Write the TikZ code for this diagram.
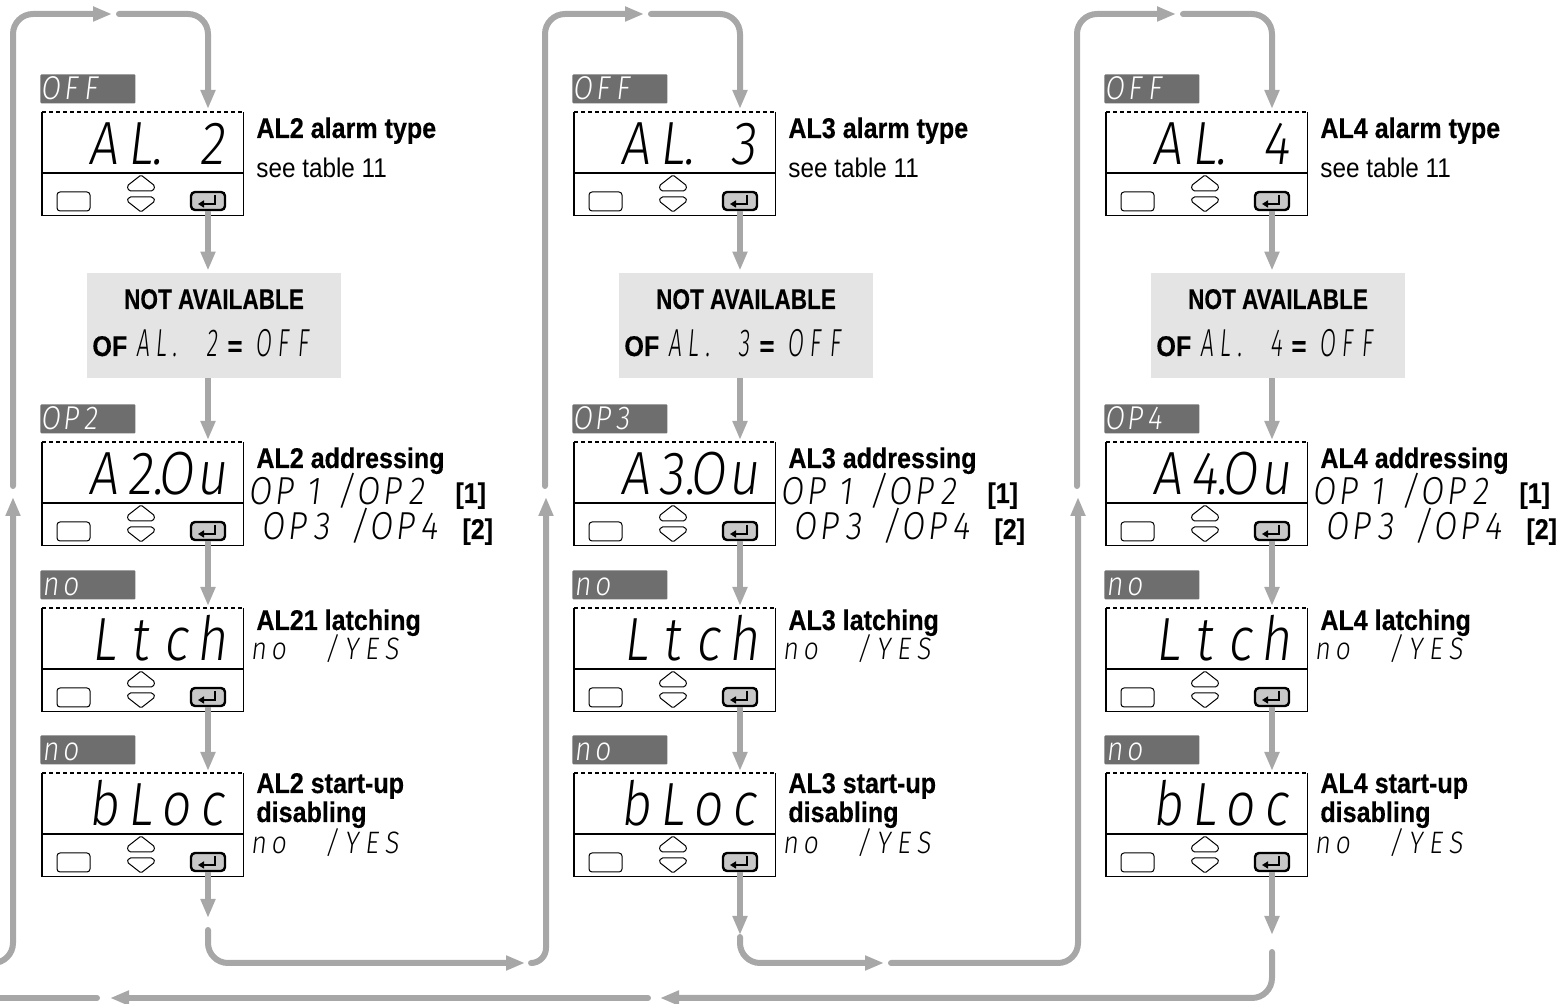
\documentclass[tikz,border=0pt]{standalone}
\usepackage{fontspec}
\usepackage{graphicx}
\setmainfont{Liberation Sans}
\newfontfamily\condb{Liberation Sans Bold}[FakeStretch=0.88,FakeBold=0.4]
\newfontfamily\condr{Liberation Sans}[FakeStretch=0.9]
\newfontfamily\segfont{Fira Sans Light}[FakeSlant=0.12,FakeStretch=0.85]
\usetikzlibrary{arrows.meta}
\newdimen\px \px=0.5pt
\newcommand\cel[2]{\makebox[#1\px][c]{#2}}
\newcommand\celr[2]{\makebox[#1\px][r]{#2}}
\newcommand\ncel[2]{\makebox[#1\px][c]{\scalebox{0.7}[1]{#2}}}
\definecolor{connc}{HTML}{A7A7A7}
\definecolor{labc}{HTML}{6E6E6E}
\definecolor{nac}{HTML}{E4E4E4}
\definecolor{entc}{HTML}{C8C8C8}

\newcommand\disprow[4]{%
 \node[labbox] (l#1) at (40,#2-38) {};
 \node[seglab] (lt#1) at (40,#2-12) {#3};
 \node[dispbox] (d#1) at (42,#2) {};
 \draw[dline] (d#1.north west) -- (d#1.south west) -- (d#1.south east) -- (d#1.north east);
 \draw[dline,dash pattern=on 2pt off 1.5pt] (d#1.north west) -- (d#1.north east);
 \draw[dline] (42,#2+61) -- (243,#2+61);
 \node[keybtn] (k#1) at (73.5,#2+89.5) {};
 \draw[line width=0.5pt,rounded corners=0.8pt] (141,#2+63) -- (155,#2+74) -- (153,#2+79) -- (129,#2+79) -- (127,#2+74) -- cycle;
 \draw[line width=0.5pt,rounded corners=0.8pt] (141,#2+100) -- (155,#2+89) -- (153,#2+85) -- (129,#2+85) -- (127,#2+89) -- cycle;
 \node[entbtn] (e#1) at (208,#2+89) {};
 \draw[line width=0.8pt,-{Triangle[width=3.5pt,length=3pt]}] (215,#2+83) -- (215,#2+92) -- (198,#2+92);
 \node[segbig] (t#1) at (230,#2+53) {#4};
}

\begin{document}
\begin{tikzpicture}[x=0.5pt,y=-0.5pt,
 conn/.style={draw=connc,line width=3pt,line cap=round,-{Triangle[width=7pt,length=9.5pt]}},
 connv/.style={draw=connc,line width=3pt,line cap=butt,-{Triangle[width=7pt,length=9.5pt]}},
 connn/.style={draw=connc,line width=3pt,line cap=round},
 labbox/.style={fill=labc,rounded corners=0.5pt,minimum width=47.5pt,minimum height=14.5pt,inner sep=0,anchor=north west},
 dispbox/.style={minimum width=100.5pt,minimum height=51.5pt,inner sep=0,anchor=north west},
 keybtn/.style={draw,line width=0.5pt,fill=white,rounded corners=1.5pt,minimum width=16.5pt,minimum height=9.5pt,inner sep=0},
 entbtn/.style={draw,line width=1.2pt,fill=entc,rounded corners=2pt,minimum width=17pt,minimum height=9pt,inner sep=0},
 nabox/.style={fill=nac,minimum width=127pt,minimum height=52.5pt,inner sep=0},
 btxt/.style={font=\condb\fontsize{14.25pt}{15pt}\selectfont,inner sep=0,anchor=base west},
 rtxt/.style={font=\condr\fontsize{13.5pt}{15pt}\selectfont,inner sep=0,anchor=base west},
 segbig/.style={font=\segfont\fontsize{30.5pt}{32pt}\selectfont,inner sep=0,anchor=base east},
 segsm/.style={font=\segfont\fontsize{19.5pt}{21pt}\selectfont,inner sep=0,anchor=base west},
 segyn/.style={font=\segfont\fontsize{15.5pt}{17pt}\selectfont,inner sep=0,anchor=base west},
 seglab/.style={font=\segfont\fontsize{16.5pt}{18pt}\selectfont,text=white,inner sep=0,anchor=base west},
 segna/.style={font=\segfont\fontsize{19.5pt}{21pt}\selectfont,inner sep=0,anchor=base west},
 dline/.style={line width=0.6pt},
]
\useasboundingbox (0,0) rectangle (1560,1004);
\clip (0,0) rectangle (1560,1004);

\foreach \i/\col/\lat in {0/2/AL21,1/3/AL3,2/4/AL4}{
\begin{scope}[xshift=\i*266pt]
 \disprow{\col1}{112}{\cel{20}{O}\cel{20}{F}\cel{20}{F}}{\cel{36}{A}\cel{36}{L\rlap{.}}\cel{36}{}\cel{36}{\col}}
 \disprow{\col2}{442}{\cel{20}{O}\cel{20}{P}\cel{20}{\col}}{\cel{36}{A}\cel{36}{\col\rlap{.}}\cel{36}{O}\cel{36}{u}}
 \disprow{\col3}{608}{\cel{20}{n}\cel{20}{o}}{\cel{36}{L}\cel{36}{t}\cel{36}{c}\cel{36}{h}}
 \disprow{\col4}{773}{\cel{20}{n}\cel{20}{o}}{\cel{36}{b}\cel{36}{L}\cel{36}{o}\cel{36}{c}}
 % right texts
 \node[btxt] (h\col1) at (256,138) {AL\col{} alarm type};
 \node[rtxt] (s\col1) at (256,178) {see table 11};
 \node[btxt] (h\col2) at (256,468) {AL\col{} addressing};
 \node[segsm] (p\col1) at (248,505) {\cel{24}{O}\cel{24}{P}\celr{24}{1}\hspace{16\px}\cel{20}{/}\cel{24}{O}\cel{24}{P}\cel{24}{2}};
 \node[btxt] (f\col1) at (455,503) {[1]};
 \node[segsm] (p\col2) at (261,540) {\cel{24}{O}\cel{24}{P}\cel{24}{3}\hspace{16\px}\cel{20}{/}\cel{24}{O}\cel{24}{P}\cel{24}{4}};
 \node[btxt] (f\col2) at (462,539) {[2]};
 \node[btxt] (h\col3) at (256,630) {\lat{} latching};
 \node[segyn] (y\col3) at (248,660) {\cel{20}{n}\cel{20}{o}\hspace{33\px}\cel{20}{/}\cel{20}{Y}\cel{20}{E}\cel{20}{S}};
 \node[btxt] (h\col4) at (256,793) {AL\col{} start-up};
 \node[btxt] (g\col4) at (256,822) {disabling};
 \node[segyn] (y\col4) at (248,854) {\cel{20}{n}\cel{20}{o}\hspace{33\px}\cel{20}{/}\cel{20}{Y}\cel{20}{E}\cel{20}{S}};
 % not available box
 \node[nabox] (na\col) at (214,325.5) {};
 \node[btxt,anchor=base] (nt\col) at (214,309) {\scalebox{0.9}[1]{NOT AVAILABLE}};
 \node[btxt] (of\col) at (92,356) {OF};
 \node[segna] (nsa\col) at (134,357) {\ncel{18}{A}\ncel{18}{L}\ncel{10}{.}};
 \node[segna] (nsb\col) at (203,357) {\ncel{18}{\col}};
 \node[btxt,anchor=base] (eq\col) at (235,356) {=};
 \node[segna] (nsc\col) at (253,357) {\ncel{20}{O}\ncel{20}{F}\ncel{20}{F}};
 % connectors
 \coordinate (up\col) at (13,486);
 \coordinate (tt\col) at (112,14);
 \coordinate (ts\col) at (119,14);
 \draw[conn,rounded corners=10pt] (up\col) |- (tt\col);
 \draw[conn,rounded corners=10pt,shorten >=1.5pt] (ts\col) -| (e\col1 |- d\col1.north);
 \draw[connv,shorten >=1pt] (e\col1.south) -- (e\col1 |- na\col.north);
 \draw[connv,shorten >=1pt] (na\col.south -| e\col1) -- (e\col2 |- d\col2.north);
 \draw[connv,shorten >=1pt] (e\col2.south) -- (e\col3 |- d\col3.north);
 \draw[connv,shorten >=1pt] (e\col3.south) -- (e\col4 |- d\col4.north);
\end{scope}
}

% bottom connectors
\coordinate (b1t) at (208,918);
\coordinate (b1s) at (208,930);
\coordinate (b1e) at (525,963);
\coordinate (b2s) at (531,963);
\coordinate (v2t) at (546,497);
\coordinate (b2t) at (740,935);
\coordinate (b2u) at (740,937);
\coordinate (b2e) at (884,963);
\coordinate (b3s) at (891,963);
\coordinate (v3t) at (1078,497);
\coordinate (b3t) at (1272,935);
\coordinate (b3u) at (1272,952);
\coordinate (r1) at (660,998);
\coordinate (r2s) at (648,998);
\coordinate (r2) at (110,998);
\coordinate (r3s) at (97,998);
\coordinate (r3) at (-10,998);
\coordinate (v1s) at (-10,963);
\coordinate (v1t) at (13,497);

\draw[connv] (e24.south) -- (b1t);
\draw[conn,rounded corners=10pt] (b1s) |- (b1e);
\draw[conn,rounded corners=7.5pt] (b2s) -| (v2t);
\draw[connv] (e34.south) -- (b2t);
\draw[conn,rounded corners=10pt] (b2u) |- (b2e);
\draw[conn,rounded corners=10pt] (b3s) -| (v3t);
\draw[connv] (e44.south) -- (b3t);
\draw[conn,rounded corners=10pt] (b3u) |- (r1);
\draw[conn] (r2s) -- (r2);
\draw[connn] (r3s) -- (r3);
\draw[conn,rounded corners=10pt] (v1s) -| (v1t);
\end{tikzpicture}
\end{document}
